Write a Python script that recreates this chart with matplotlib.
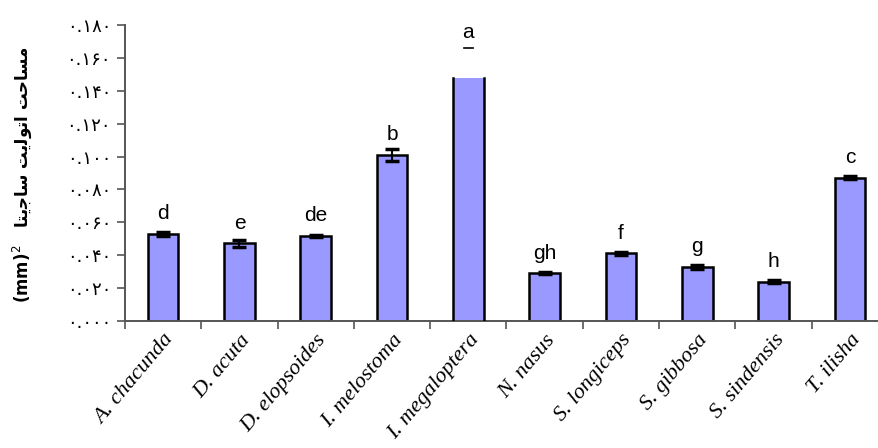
import matplotlib
matplotlib.use("Agg")
import matplotlib.pyplot as plt
import numpy as np

species = ["A. chacunda", "D. acuta", "D. elopsoides", "I. melostoma", "I. megaloptera",
           "N. nasus", "S. longiceps", "S. gibbosa", "S. sindensis", "T. ilisha"]
area = [0.0529, 0.0472, 0.0517, 0.1010, 0.148, 0.0289, 0.0412, 0.0328, 0.0240, 0.0872]
err = [0.0010, 0.0020, 0.0008, 0.0036, 0.0, 0.0006, 0.0010, 0.0010, 0.0008, 0.0010]
groups = ["d", "e", "de", "b", "a", "gh", "f", "g", "h", "c"]
cap_megaloptera = 0.166
yticks = [0.0, 0.02, 0.04, 0.06, 0.08, 0.10, 0.12, 0.14, 0.16, 0.18]

PERSIAN = str.maketrans("0123456789", "۰۱۲۳۴۵۶۷۸۹")

def fa_num(v):
    return f"{v:.3f}".translate(PERSIAN)

# Persian axis title, pre-shaped into presentation forms in visual (LTR) order
w1 = "\uFEE3\uFEB4\uFE8E\uFEA3\uFE96"            # مساحت
w2 = "\uFE8D\uFE97\uFEEE\uFEDF\uFBFE\uFE96"      # اتولیت
w3 = "\uFEB3\uFE8E\uFE9F\uFBFE\uFE98\uFE8E"      # ساجیتا
ylabel = "(mm)$^{2}$   " + w3[::-1] + " " + w2[::-1] + " " + w1[::-1]

fig = plt.figure(figsize=(8.79, 4.48), dpi=100)
ax = fig.add_axes([125 / 879, (448 - 321) / 448, 763 / 879, (321 - 25) / 448])

x = np.arange(len(species))
width = 0.4
fill = "#9999FF"
colors = [fill] * len(species)
edges = ["black"] * len(species)
lws = [1.8] * len(species)
open_top = species.index("I. megaloptera")
edges[open_top] = "none"
lws[open_top] = 0
ax.bar(x, area, width=width, color=colors, edgecolor=edges, linewidth=lws, zorder=2)
# bar whose top is cut off: draw only its sides
xi = x[open_top]
for sx in (xi - width / 2, xi + width / 2):
    ax.plot([sx, sx], [0, area[open_top]], color="black", lw=1.8, zorder=3)
ax.plot([xi - 0.06, xi + 0.06], [cap_megaloptera, cap_megaloptera], color="black", lw=1.2, zorder=3)

mask = [i for i in range(len(species)) if i != open_top]
ax.errorbar(x[mask], np.array(area)[mask], yerr=np.array(err)[mask], fmt="none",
            ecolor="black", elinewidth=1.5, capsize=5, capthick=2.5, zorder=4)

for i, (v, g) in enumerate(zip(area, groups)):
    yv = cap_megaloptera if i == open_top else v
    off = 7 if i == open_top else 10.5
    ax.annotate(g, (x[i], yv), xytext=(0, off), textcoords="offset points",
                ha="center", va="baseline", fontsize=15, family="Liberation Sans")

ax.set_xlim(-0.5, 9.5)
ax.set_ylim(0, 0.18)
ax.set_yticks(yticks)
ax.set_yticklabels([fa_num(t) for t in yticks], fontsize=13, family=["DejaVu Sans"])
ax.set_xticks(np.arange(-0.5, 9.6, 1.0))
ax.set_xticklabels([])
ax.set_xticks(x, minor=True)
ax.set_xticklabels(species, minor=True, rotation=50, ha="right", va="top",
                   rotation_mode="anchor", fontsize=16, family="Liberation Serif",
                   style="italic")
ax.tick_params(axis="x", which="minor", length=0, pad=7)
ax.tick_params(axis="x", which="major", length=6, width=1.2, color="#555555", direction="out")
ax.tick_params(axis="y", length=6, width=1.2, color="#555555", pad=4)

for s in ("top", "right"):
    ax.spines[s].set_visible(False)
for s in ("left", "bottom"):
    ax.spines[s].set_color("#555555")
    ax.spines[s].set_linewidth(1.4)

fig.text(0.026, (448 - 174) / 448, ylabel, rotation=90, ha="center", va="center",
         fontsize=12, fontweight="bold", family=["DejaVu Sans"])

fig.savefig("out.png", dpi=100)
